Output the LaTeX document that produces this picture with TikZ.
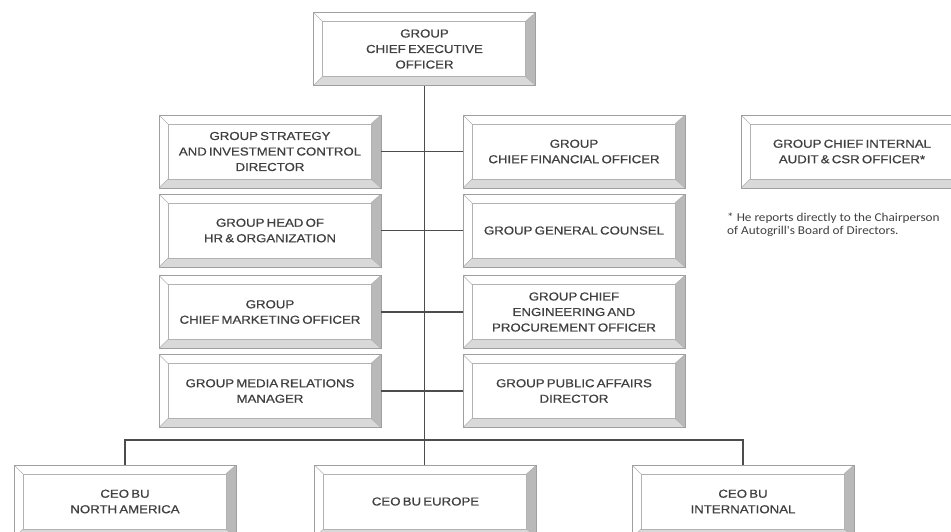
\documentclass[tikz,border=0pt]{standalone}
\usepackage{fontspec}
\usepackage{tikz}
\usetikzlibrary{calc}
\newfontfamily\boxfont[FakeStretch=1.15,WordSpace=0.6,FakeBold=0.8]{Liberation Sans}
\newfontfamily\notefont[FakeStretch=1.1]{Carlito}

\begin{document}
\begin{tikzpicture}[x=1pt,y=-1pt,
    bevelbox/.style={draw=gray!75, line width=0.8pt, fill=white,
      minimum width=222pt, minimum height=73pt, inner sep=0pt, align=center,
      text=black!75, font=\boxfont\fontsize{11.5}{15.5}\selectfont,
      path picture={
        \coordinate (pa) at (path picture bounding box.south west);
        \coordinate (pb) at (path picture bounding box.north east);
        \fill[gray!55] (pb) -- (pb |- pa) -- ++(-10pt,9pt) -- ($(pb)+(-10pt,-9pt)$) -- cycle;
        \fill[gray!30] (pa) -- (pb |- pa) -- ++(-10pt,9pt) -- ($(pa)+(9pt,9pt)$) -- cycle;
        \draw[gray!60, line width=0.6pt] ($(pa)+(9pt,9pt)$) rectangle ($(pb)+(-10pt,-9pt)$);
        \draw[gray!60, line width=0.6pt] (pa |- pb) -- ++(9pt,-9pt)
          (pa) -- ++(9pt,9pt) (pb) -- ++(-10pt,-9pt) (pb |- pa) -- ++(-10pt,9pt);
      }},
    link/.style={draw=black!70, line width=1.3pt}]
  \useasboundingbox (0,0) rectangle (951,531);
  \clip (0,0) rectangle (951,531);

  \node[bevelbox] (ceo) at (424.5,49) {GROUP\\CHIEF EXECUTIVE\\OFFICER};

  % left column
  \node[bevelbox] (strategy) at (270,151.5) {GROUP STRATEGY\\AND INVESTMENT CONTROL\\DIRECTOR};
  \node[bevelbox] (hr) at (270,230.5) {GROUP HEAD OF\\HR \& ORGANIZATION};
  \node[bevelbox] (cmo) at (270,312) {GROUP\\CHIEF MARKETING OFFICER};
  \node[bevelbox] (media) at (270,391) {GROUP MEDIA RELATIONS\\MANAGER};

  % right column
  \node[bevelbox] (cfo) at (574,151.5) {GROUP\\CHIEF FINANCIAL OFFICER};
  \node[bevelbox] (counsel) at (574,230.5) {GROUP GENERAL COUNSEL};
  \node[bevelbox] (engineering) at (574,312) {GROUP CHIEF\\ENGINEERING AND\\PROCUREMENT OFFICER};
  \node[bevelbox] (affairs) at (574,391) {GROUP PUBLIC AFFAIRS\\DIRECTOR};

  \node[bevelbox] (audit) at (852,151.5) {GROUP CHIEF INTERNAL\\AUDIT \& CSR OFFICER*};
  \node[anchor=north west, align=left, text=black!75, inner sep=0pt,
    font=\notefont\fontsize{12}{13}\selectfont] (note) at (727,213)
    {* He reports directly to the Chairperson\\of Autogrill's Board of Directors.};

  % business units
  \node[bevelbox] (northamerica) at (125,501.5) {CEO BU\\NORTH AMERICA};
  \node[bevelbox] (europe) at (425.5,501.5) {CEO BU EUROPE};
  \node[bevelbox] (international) at (743,501.5) {CEO BU\\INTERNATIONAL};

  \coordinate (bus) at (425,440);

  \draw[link] (ceo.south) -- (ceo.south |- europe.north);
  \draw[link] (strategy.east) -- (cfo.west);
  \draw[link] (hr.east) -- (counsel.west);
  \draw[link] (cmo.east) -- (engineering.west);
  \draw[link] (media.east) -- (affairs.west);
  \draw[link] (northamerica.north) |- (bus) -| (international.north);
\end{tikzpicture}
\end{document}
